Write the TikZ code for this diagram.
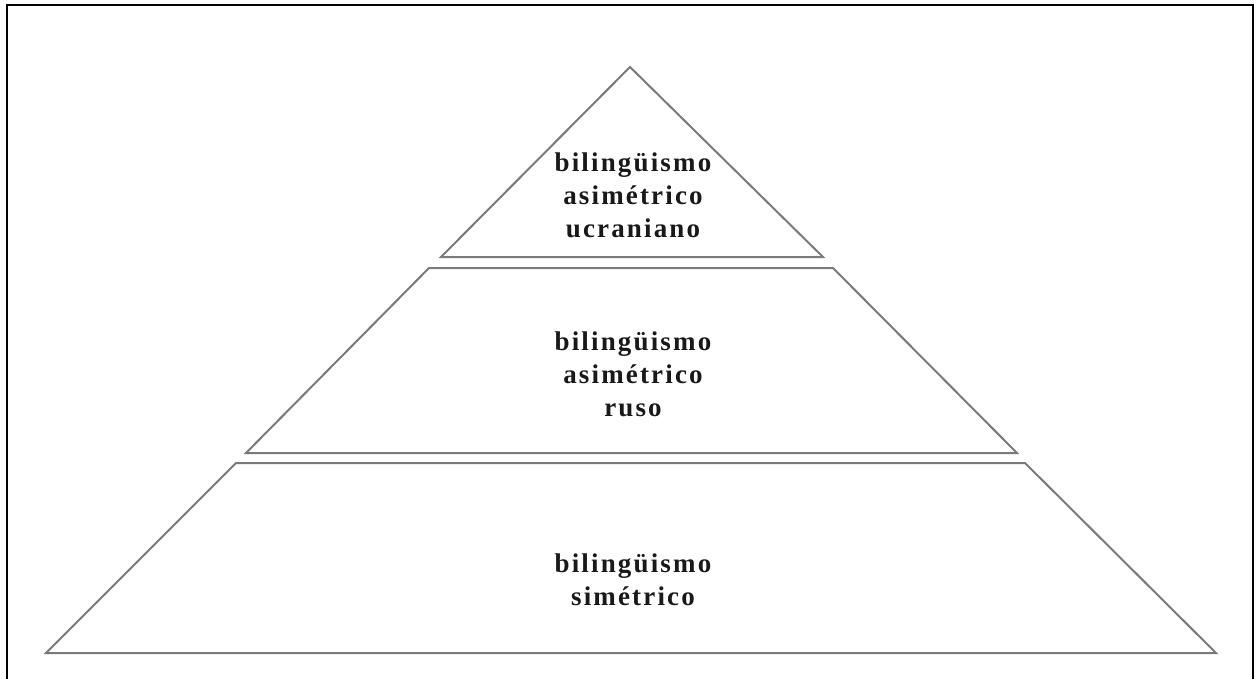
\documentclass[tikz,border=0pt]{standalone}
\usepackage{fontspec}
\setmainfont{Liberation Serif}[LetterSpace=8]
\definecolor{edge}{HTML}{7A7A7A}
\begin{document}
\begin{tikzpicture}[x=1pt,y=-1pt,
  tier/.style={draw=edge,line width=2pt,line join=miter},
  lbl/.style={align=center,font=\fontsize{27}{33}\selectfont\bfseries,text=black!90}]
\useasboundingbox (0,0) rectangle (1257,679);
\draw[line width=2.2pt,black] (7,700) -- (7,5) -- (1253,5) -- (1253,700);
\draw[tier] (630,67) -- (823,257) -- (441,257) -- cycle;
\draw[tier] (429,268) -- (833,268) -- (1017,453) -- (246,453) -- cycle;
\draw[tier] (236,463) -- (1025,463) -- (1216,653) -- (46,653) -- cycle;
\node[lbl] (t1) at (633,195) {bilingüismo\\asimétrico\\ucraniano};
\node[lbl] (t2) at (633,374) {bilingüismo\\asimétrico\\ruso};
\node[lbl] (t3) at (633,580) {bilingüismo\\simétrico};
\end{tikzpicture}
\end{document}
